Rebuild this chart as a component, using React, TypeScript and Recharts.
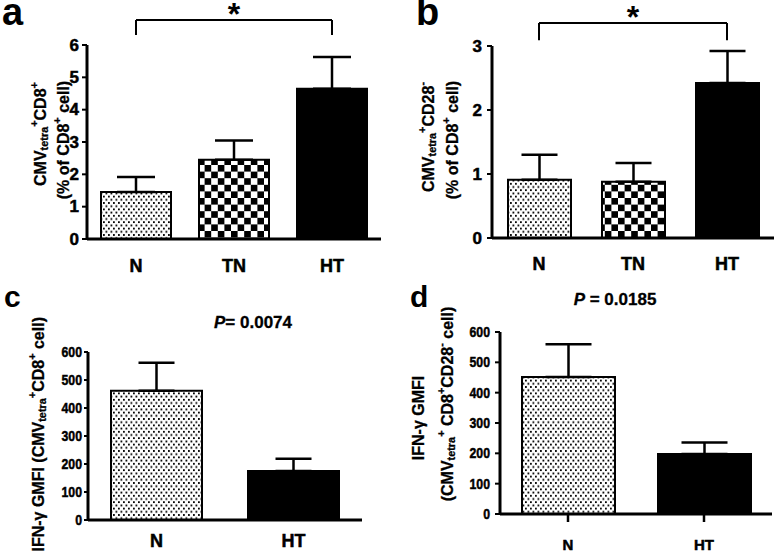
import React from "react";
import { Bar, BarChart, Cell, ErrorBar, ReferenceLine, XAxis, YAxis } from "recharts";

// panels a / b: three groups
const groups3 = ["N", "TN", "HT"];
const tetraPct = [1.45, 2.45, 4.65];
const tetraPctErr = [0.47, 0.6, 0.98];
const cd28Pct = [0.91, 0.88, 2.42];
const cd28PctErr = [0.39, 0.29, 0.5];
const ticksA = [0, 1, 2, 3, 4, 5, 6];
const ticksB = [0, 1, 2, 3];

// panels c / d: two groups
const groups2 = ["N", "HT"];
const gmfiTetra = [462, 175];
const gmfiTetraErr = [100, 44];
const gmfiCd28 = [452, 198];
const gmfiCd28Err = [108, 38];
const ticksGmfi = [0, 100, 200, 300, 400, 500, 600];

// significance brackets (value units)
const bracketA = { from: "N", to: "HT", top: 6.77, foot: 6.31 };
const bracketB = { from: "N", to: "HT", top: 3.36, foot: 3.09 };

const FONT = "Arial, 'Liberation Sans', Helvetica, sans-serif";
const HEAVY = 0.5; // extra stroke so the bold text reads as heavy as the scan

type Seg = [string, "n" | "sub" | "sup"];

function RotText({ x, y, segs, size, anchor = "middle" }: { x: number; y: number; segs: Seg[]; size: number; anchor?: string }) {
  let level = 0;
  const spans = segs.map(([t, k], i) => {
    const target = k === "sub" ? size * 0.28 : k === "sup" ? -size * 0.38 : 0;
    const dy = target - level;
    level = target;
    return (
      <tspan key={i} dy={dy} fontSize={k === "n" ? size : size * 0.68}>
        {t}
      </tspan>
    );
  });
  return (
    <text
      x={x}
      y={y}
      textAnchor={anchor as any}
      dominantBaseline="central"
      transform={`rotate(-90 ${x} ${y})`}
      fontFamily={FONT}
      fontWeight="bold"
      fill="#000"
      stroke="#000"
      strokeWidth={HEAVY * 0.6}
    >
      {spans}
    </text>
  );
}

function makeYTick(size: number, squeeze: number) {
  return (props: any) => {
    const { x, y, payload } = props;
    return (
      <text
        transform={`translate(${x} ${y}) scale(${squeeze} 1)`}
        textAnchor="end"
        dominantBaseline="central"
        fontFamily={FONT}
        fontWeight="bold"
        fontSize={size}
        fill="#000"
        stroke="#000"
        strokeWidth={HEAVY}
      >
        {payload.value}
      </text>
    );
  };
}

function Patterns({ id }: { id: string }) {
  return (
    <defs>
      <pattern id={`dots-${id}`} width={5} height={6.4} patternUnits="userSpaceOnUse">
        <rect width={5} height={6.4} fill="#fff" />
        <rect x={0.5} y={0.5} width={1.8} height={1.8} fill="#000" />
        <rect x={3} y={3.7} width={1.8} height={1.8} fill="#000" />
      </pattern>
      <pattern id={`check-${id}`} width={13.2} height={13.2} patternUnits="userSpaceOnUse">
        <rect width={13.2} height={13.2} fill="#fff" />
        <rect width={6.6} height={6.6} fill="#000" />
        <rect x={6.6} y={6.6} width={6.6} height={6.6} fill="#000" />
      </pattern>
    </defs>
  );
}

interface PanelProps {
  id: string;
  left: number;
  top: number;
  width: number;
  height: number;
  margin: { top: number; right: number; bottom: number; left: number };
  yWidth: number;
  xHeight: number;
  groups: string[];
  values: number[];
  errs: number[];
  domain: [number, number];
  ticks: number[];
  barSize: number;
  capHalf: number;
  yTick: (props: any) => React.ReactElement;
  yTickSize: number;
  yTickGap: number;
  xFont: number;
  xLabelGap: number;
  xTickMarks?: boolean;
  yLabel: React.ReactNode;
  bracket?: { from: string; to: string; top: number; foot: number };
}

function Panel(p: PanelProps) {
  const data = p.groups.map((g, i) => ({ group: g, value: p.values[i], err: [0, p.errs[i]] }));
  const fills = p.groups.map((g) =>
    g === "N" ? `url(#dots-${p.id})` : g === "TN" ? `url(#check-${p.id})` : "#000"
  );
  const axisLine = { stroke: "#000", strokeWidth: 3 };
  return (
    <div style={{ position: "absolute", left: p.left, top: p.top }}>
      <BarChart width={p.width} height={p.height} data={data} margin={p.margin}>
        <Patterns id={p.id} />
        <XAxis
          dataKey="group"
          height={p.xHeight}
          axisLine={axisLine}
          tickLine={p.xTickMarks ? { stroke: "#000", strokeWidth: 2.5 } : false}
          tickSize={p.xTickMarks ? 8 : 0}
          tickMargin={p.xTickMarks ? p.xLabelGap - 8 : p.xLabelGap}
          tick={{ fill: "#000", stroke: "#000", strokeWidth: HEAVY, fontFamily: FONT, fontWeight: "bold", fontSize: p.xFont }}
        />
        <YAxis
          width={p.yWidth}
          domain={p.domain}
          ticks={p.ticks}
          interval={0}
          axisLine={axisLine}
          tickLine={{ stroke: "#000", strokeWidth: 2 }}
          tickSize={p.yTickSize}
          tickMargin={p.yTickGap}
          tick={p.yTick}
          label={() => <g>{p.yLabel}</g>}
        />
        <Bar dataKey="value" barSize={p.barSize} stroke="#000" strokeWidth={2} isAnimationActive={false}>
          {data.map((d, i) => (
            <Cell key={d.group} fill={fills[i]} />
          ))}
          <ErrorBar dataKey="err" width={p.capHalf} stroke="#000" strokeWidth={2.5} direction="y" />
        </Bar>
        {p.bracket && (
          <ReferenceLine
            segment={[
              { x: p.bracket.from, y: p.bracket.top },
              { x: p.bracket.to, y: p.bracket.top },
            ]}
            ifOverflow="visible"
            stroke="#000"
            strokeWidth={2}
            label={{ value: "*", position: "top", offset: -5, fill: "#000", fontFamily: FONT, fontWeight: "bold", fontSize: 32 }}
          />
        )}
        {p.bracket && (
          <ReferenceLine
            segment={[
              { x: p.bracket.from, y: p.bracket.top },
              { x: p.bracket.from, y: p.bracket.foot },
            ]}
            ifOverflow="visible"
            stroke="#000"
            strokeWidth={2}
          />
        )}
        {p.bracket && (
          <ReferenceLine
            segment={[
              { x: p.bracket.to, y: p.bracket.top },
              { x: p.bracket.to, y: p.bracket.foot },
            ]}
            ifOverflow="visible"
            stroke="#000"
            strokeWidth={2}
          />
        )}
      </BarChart>
    </div>
  );
}

const tickAB = makeYTick(17, 1);
const tickCD = makeYTick(15, 0.82);

export default function App() {
  return (
    <div style={{ position: "absolute", left: 0, top: 0, width: 774, height: 553, background: "#fff", overflow: "hidden" }}>
      <Panel
        id="a"
        left={0}
        top={0}
        width={387}
        height={280}
        margin={{ top: 45, right: 6, bottom: 0, left: 0 }}
        yWidth={87}
        xHeight={41}
        groups={groups3}
        values={tetraPct}
        errs={tetraPctErr}
        domain={[0, 6]}
        ticks={ticksA}
        barSize={70}
        capHalf={19}
        yTick={tickAB}
        yTickSize={5}
        yTickGap={3}
        xFont={18}
        xLabelGap={20}
        bracket={bracketA}
        yLabel={
          <>
            <RotText x={40} y={134} size={16} segs={[["CMV", "n"], ["tetra", "sub"], ["+", "sup"], ["CD8", "n"], ["+", "sup"]]} />
            <RotText x={63} y={140} size={16} segs={[["(% of CD8", "n"], ["+", "sup"], [" cell)", "n"]]} />
          </>
        }
      />
      <Panel
        id="b"
        left={387}
        top={0}
        width={387}
        height={280}
        margin={{ top: 46, right: 0, bottom: 0, left: 0 }}
        yWidth={105}
        xHeight={42}
        groups={groups3}
        values={cd28Pct}
        errs={cd28PctErr}
        domain={[0, 3]}
        ticks={ticksB}
        barSize={63}
        capHalf={18}
        yTick={tickAB}
        yTickSize={5}
        yTickGap={5}
        xFont={18}
        xLabelGap={19}
        bracket={bracketB}
        yLabel={
          <>
            <RotText x={41} y={137} size={16} segs={[["CMV", "n"], ["tetra", "sub"], ["+", "sup"], ["CD28", "n"], ["-", "sup"]]} />
            <RotText x={65} y={140} size={16} segs={[["(% of CD8", "n"], ["+", "sup"], [" cell)", "n"]]} />
          </>
        }
      />
      <Panel
        id="c"
        left={0}
        top={280}
        width={387}
        height={273}
        margin={{ top: 72, right: 25, bottom: 0, left: 0 }}
        yWidth={88}
        xHeight={33}
        groups={groups2}
        values={gmfiTetra}
        errs={gmfiTetraErr}
        domain={[0, 600]}
        ticks={ticksGmfi}
        barSize={91}
        capHalf={18}
        yTick={tickCD}
        yTickSize={4}
        yTickGap={2}
        xFont={18}
        xLabelGap={14}
        yLabel={
          <RotText
            x={38}
            y={37}
            size={16}
            anchor="end"
            segs={[["IFN-γ GMFI (CMV", "n"], ["tetra", "sub"], ["+", "sup"], ["CD8", "n"], ["+", "sup"], [" cell)", "n"]]}
          />
        }
      />
      <Panel
        id="d"
        left={387}
        top={280}
        width={387}
        height={273}
        margin={{ top: 52, right: 2, bottom: 0, left: 0 }}
        yWidth={113}
        xHeight={39}
        groups={groups2}
        values={gmfiCd28}
        errs={gmfiCd28Err}
        domain={[0, 600]}
        ticks={ticksGmfi}
        barSize={93}
        capHalf={23}
        yTick={tickCD}
        yTickSize={5}
        yTickGap={5}
        xFont={15}
        xLabelGap={25}
        xTickMarks
        yLabel={
          <>
            <RotText x={31} y={138} size={16} segs={[["IFN-γ GMFI", "n"]]} />
            <RotText
              x={60}
              y={124}
              size={16}
              segs={[["(CMV", "n"], ["tetra", "sub"], ["+", "sup"], [" CD8", "n"], ["+", "sup"], ["CD28", "n"], ["-", "sup"], [" cell)", "n"]]}
            />
          </>
        }
      />
      <svg width={774} height={553} style={{ position: "absolute", left: 0, top: 0, pointerEvents: "none" }}>
        <g fontFamily={FONT} fontWeight="bold" fill="#000">
          <text x={2} y={25} fontSize={38}>a</text>
          <text x={416} y={25} fontSize={38}>b</text>
          <text x={4} y={307} fontSize={30}>c</text>
          <text x={410} y={307} fontSize={30}>d</text>
          <text x={253} y={328} fontSize={17} textAnchor="middle" stroke="#000" strokeWidth={0.3}>
            <tspan fontStyle="italic">P</tspan>= 0.0074
          </text>
          <text x={615} y={305} fontSize={17} textAnchor="middle" stroke="#000" strokeWidth={0.3}>
            <tspan fontStyle="italic">P</tspan> = 0.0185
          </text>
        </g>
      </svg>
    </div>
  );
}
